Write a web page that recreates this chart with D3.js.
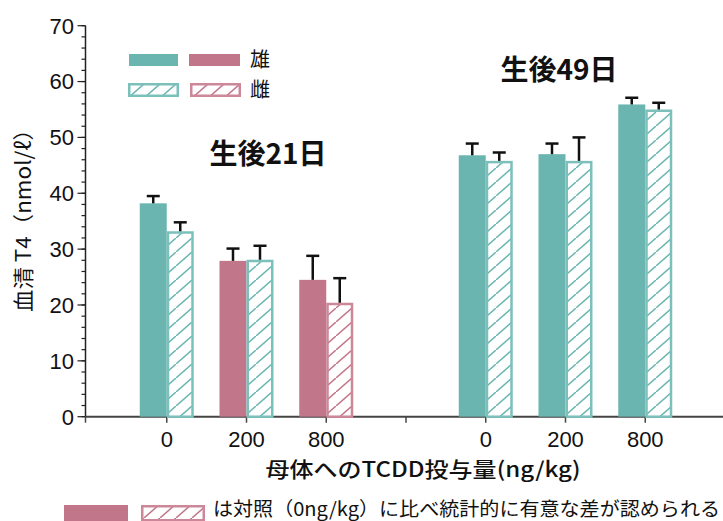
<!DOCTYPE html>
<html><head><meta charset="utf-8">
<script src="https://cdn.jsdelivr.net/npm/d3@7"></script>
<style>
html,body{margin:0;padding:0;background:#fff;}
svg{display:block;}
</style></head>
<body>
<svg id="c" width="723" height="521"></svg>
<script>
// ---- data ----
const doses = ["0", "200", "800"];
const ages = ["生後21日", "生後49日"];
const male21 = [38.2, 27.9, 24.5];
const male21Err = [1.3, 2.2, 4.3];
const female21 = [33.2, 28.1, 20.4];
const female21Err = [1.6, 2.5, 4.4];
const male49 = [46.8, 47.0, 55.9];
const male49Err = [2.1, 1.9, 1.2];
const female49 = [45.8, 45.8, 55.0];
const female49Err = [1.5, 4.2, 1.2];
const male21Sig = [false, true, true];
const female21Sig = [false, false, true];
const male49Sig = [false, false, false];
const female49Sig = [false, false, false];
const yMajorTicks = [0, 10, 20, 30, 40, 50, 60, 70];
const legendLabels = ["雄", "雌"];
const yLabel = "血清 T4（nmol/ℓ）";
const xLabel = "母体へのTCDD投与量(ng/kg)";
const footnote = "は対照（0ng/kg）に比べ統計的に有意な差が認められる";

// ---- style ----
const TEAL = "#6bb5b0", TEAL_L = "#7cc0bb";
const PINK = "#c27689", PINK_L = "#cc8799";
const JP = "'Noto Sans CJK JP','Noto Sans',sans-serif";
const NUM = "'Liberation Sans',Arial,sans-serif";

const svg = d3.select("#c");
const y = d3.scaleLinear().domain([0, 70]).range([416.7, 25.7]);
const x = d3.scaleLinear().domain([0, 8]).range([87, 725]);
const axX = 85.5;

// patterns
const defs = svg.append("defs");
function hatch(id, color) {
  const p = defs.append("pattern").attr("id", id).attr("patternUnits", "userSpaceOnUse")
    .attr("width", 16).attr("height", 14);
  p.append("rect").attr("width", 16).attr("height", 14).attr("fill", "#fff");
  p.append("path").attr("d", "M-2,15.75 L18,-1.75").attr("stroke", color).attr("stroke-width", 1.5);
}
hatch("hT", TEAL);
hatch("hP", PINK);

// ---- y axis ----
const ya = svg.append("g");
ya.append("line").attr("x1", axX).attr("x2", axX).attr("y1", y(70)).attr("y2", y(0))
  .attr("stroke", "#222").attr("stroke-width", 1.5);
ya.selectAll(".mn").data(d3.range(0, 71, 2)).join("line")
  .attr("x1", axX - 4).attr("x2", axX).attr("y1", d => y(d)).attr("y2", d => y(d))
  .attr("stroke", "#222").attr("stroke-width", 1.2);
ya.selectAll(".mj").data(yMajorTicks).join("line")
  .attr("x1", axX - 8).attr("x2", axX).attr("y1", d => y(d)).attr("y2", d => y(d))
  .attr("stroke", "#222").attr("stroke-width", 1.2);
ya.selectAll("text").data(yMajorTicks).join("text")
  .attr("x", 74).attr("y", d => y(d)).attr("dy", "0.36em").attr("text-anchor", "end")
  .attr("font-family", NUM).attr("font-size", 22).attr("fill", "#111").text(d => d);

svg.append("text").attr("transform", "translate(31,215) rotate(-90)")
  .attr("text-anchor", "middle").attr("font-family", JP).attr("font-size", 21).attr("fill", "#111")
  .attr("textLength", 194).attr("lengthAdjust", "spacingAndGlyphs")
  .text(yLabel);

// ---- x axis ----
const xa = svg.append("g");
xa.append("line").attr("x1", axX).attr("x2", 723).attr("y1", y(0)).attr("y2", y(0))
  .attr("stroke", "#444").attr("stroke-width", 2);
xa.selectAll(".tk").data(d3.range(0, 8)).join("line")
  .attr("x1", d => d === 0 ? axX : x(d)).attr("x2", d => d === 0 ? axX : x(d))
  .attr("y1", y(0)).attr("y2", y(0) + 6).attr("stroke", "#444").attr("stroke-width", 1.5);

const positions = [];
ages.forEach((a, gi) => doses.forEach((d, ci) => positions.push({ gi, ci, pos: gi * 4 + ci + 1, dose: d })));
xa.selectAll("text").data(positions).join("text")
  .attr("x", d => x(d.pos)).attr("y", 447).attr("text-anchor", "middle")
  .attr("font-family", NUM).attr("font-size", 22).attr("fill", "#111").text(d => d.dose);

svg.append("text").attr("x", 423).attr("y", 477).attr("text-anchor", "middle")
  .attr("font-family", JP).attr("font-size", 21).attr("font-weight", 500).attr("fill", "#111")
  .attr("textLength", 315).attr("lengthAdjust", "spacingAndGlyphs").text(xLabel);

// ---- bars ----
const BW = 27;
const series = [
  { g: 0, sex: 0, v: male21, e: male21Err, s: male21Sig },
  { g: 0, sex: 1, v: female21, e: female21Err, s: female21Sig },
  { g: 1, sex: 0, v: male49, e: male49Err, s: male49Sig },
  { g: 1, sex: 1, v: female49, e: female49Err, s: female49Sig },
];
const bars = [];
series.forEach(sr => sr.v.forEach((v, i) => bars.push({
  pos: sr.g * 4 + i + 1, sex: sr.sex, v, e: sr.e[i], sig: sr.s[i]
})));

const bg = svg.append("g");
bg.selectAll("rect").data(bars).join("rect")
  .attr("x", d => d.sex === 0 ? x(d.pos) - BW : x(d.pos) + 1.25)
  .attr("width", d => d.sex === 0 ? BW : BW - 2.5)
  .attr("y", d => d.sex === 0 ? y(d.v) : y(d.v) + 1.25)
  .attr("height", d => d.sex === 0 ? y(0) - y(d.v) : y(0) - y(d.v) - 1.25)
  .attr("fill", d => d.sex === 0 ? (d.sig ? PINK : TEAL) : (d.sig ? "url(#hP)" : "url(#hT)"))
  .attr("stroke", d => d.sex === 0 ? "none" : (d.sig ? PINK_L : TEAL_L))
  .attr("stroke-width", 2.5);

// error bars
const eg = svg.append("g").attr("stroke", "#111").attr("stroke-width", 2.5);
bars.forEach(d => {
  const cx = d.sex === 0 ? x(d.pos) - BW / 2 : x(d.pos) + BW / 2;
  eg.append("line").attr("x1", cx).attr("x2", cx).attr("y1", y(d.v)).attr("y2", y(d.v + d.e));
  eg.append("line").attr("x1", cx - 6.5).attr("x2", cx + 6.5).attr("y1", y(d.v + d.e)).attr("y2", y(d.v + d.e));
});

// group titles
const titlePos = [{ x: 268, y: 164 }, { x: 559, y: 80 }];
svg.selectAll(".ttl").data(ages).join("text")
  .attr("x", (d, i) => titlePos[i].x).attr("y", (d, i) => titlePos[i].y)
  .attr("text-anchor", "middle").attr("font-family", JP).attr("font-size", 28).attr("font-weight", 700)
  .attr("fill", "#111").text(d => d);

// ---- legend ----
const lg = svg.append("g");
function legRect(g, x0, y0, w, h, fill, stroke) {
  g.append("rect").attr("x", x0).attr("y", y0).attr("width", w).attr("height", h)
    .attr("fill", fill).attr("stroke", stroke).attr("stroke-width", stroke === "none" ? 0 : 2.5);
}
legRect(lg, 129, 54, 49, 12, TEAL, "none");
legRect(lg, 189, 54, 51, 12, PINK, "none");
legRect(lg, 129.25, 84.25, 48.5, 11.5, "url(#hT)", TEAL_L);
legRect(lg, 191.25, 84.25, 48.5, 11.5, "url(#hP)", PINK_L);
lg.selectAll("text").data(legendLabels).join("text")
  .attr("x", 250).attr("y", (d, i) => 60 + i * 30).attr("dy", "0.36em")
  .attr("font-family", JP).attr("font-size", 20).attr("fill", "#111").text(d => d);

// ---- footnote ----
legRect(svg, 64, 505, 64, 16, PINK, "none");
legRect(svg, 142.25, 506.25, 61.5, 14, "url(#hP)", PINK_L);
svg.append("text").attr("x", 213).attr("y", 516)
  .attr("font-family", JP).attr("font-size", 19).attr("fill", "#111")
  .attr("textLength", 507).attr("lengthAdjust", "spacingAndGlyphs").text(footnote);
</script>
</body></html>
